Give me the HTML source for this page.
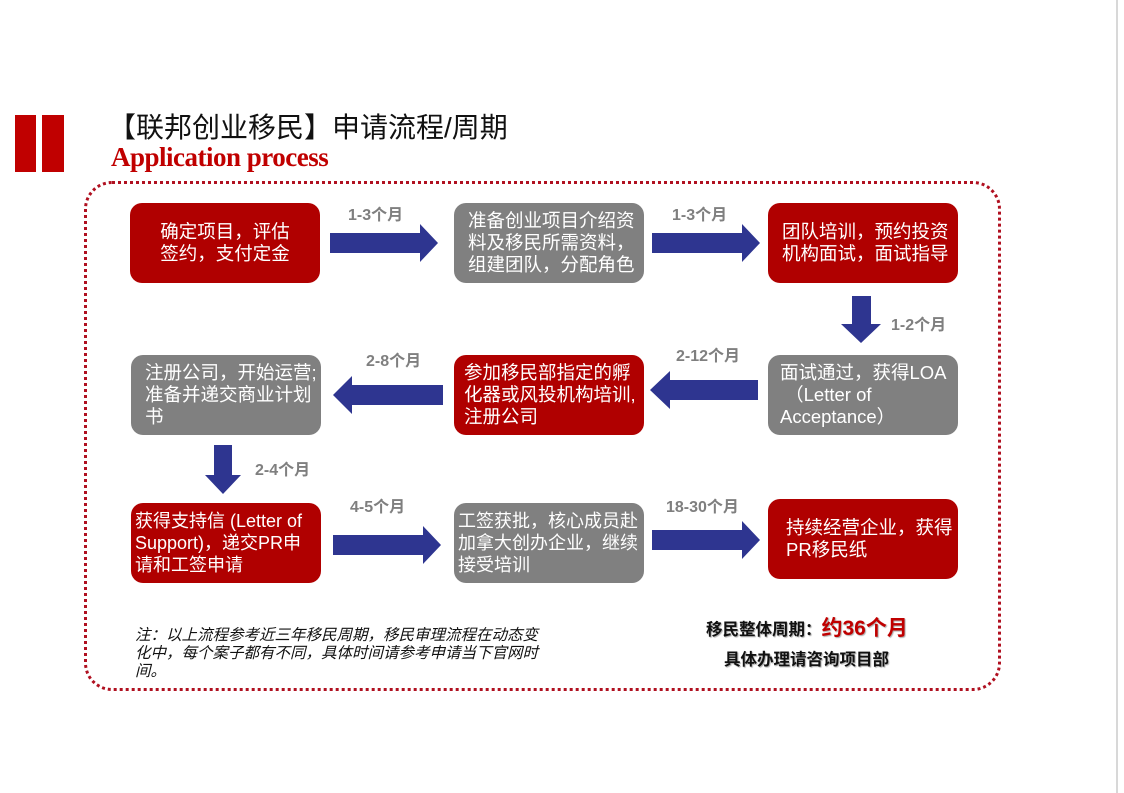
<!DOCTYPE html>
<html><head><meta charset="utf-8"><style>
body{margin:0;width:1124px;height:793px;background:#fff;position:relative;overflow:hidden;font-family:"Liberation Sans","Noto Sans CJK SC",sans-serif}
.a{position:absolute}
.box{position:absolute;width:190px;height:80px;border-radius:12px;color:#fff;font-size:18.5px;line-height:22px;box-sizing:border-box;padding:0 6px;display:flex;align-items:center;white-space:nowrap;overflow:hidden}
.r{background:#b00000}.g{background:#808080}
.lb{position:absolute;color:#7f7f7f;font-weight:bold;font-size:16px}
</style></head><body>
<div class="a" style="left:1116px;top:0;width:2px;height:793px;background:#d8d8d8"></div>
<div class="a" style="left:15px;top:115px;width:21px;height:57px;background:#c00000"></div>
<div class="a" style="left:42px;top:115px;width:22px;height:57px;background:#c00000"></div>
<div class="a" style="left:108px;top:106px;font-size:28px;color:#111">【联邦创业移民】申请流程/周期</div>
<div class="a" style="left:111px;top:142px;font-size:27px;color:#c00000;font-weight:bold;font-family:'Liberation Serif',serif;letter-spacing:-0.5px">Application process</div>
<div class="a" style="left:84px;top:181px;width:911px;height:504px;border:3px dotted #b01020;border-radius:28px"></div>

<div class="box r" style="left:130px;top:203px;justify-content:center;text-align:center">确定项目，评估<br>签约，支付定金</div>
<div class="box g" style="left:454px;top:203px;padding-left:14px">准备创业项目介绍资<br>料及移民所需资料，<br>组建团队，分配角色</div>
<div class="box r" style="left:768px;top:203px;padding-left:14px">团队培训，预约投资<br>机构面试，面试指导</div>
<div class="box g" style="left:131px;top:355px;padding-left:14px">注册公司，开始运营;<br>准备并递交商业计划<br>书</div>
<div class="box r" style="left:454px;top:355px;padding-left:10px">参加移民部指定的孵<br>化器或风投机构培训,<br>注册公司</div>
<div class="box g" style="left:768px;top:355px;padding-left:12px">面试通过，获得LOA<br>&nbsp;（Letter of<br>Acceptance）</div>
<div class="box r" style="left:131px;top:503px;padding-left:4px;font-size:18px">获得支持信 (Letter of<br>Support)，递交PR申<br>请和工签申请</div>
<div class="box g" style="left:454px;top:503px;padding-left:4px;font-size:18px">工签获批，核心成员赴<br>加拿大创办企业，继续<br>接受培训</div>
<div class="box r" style="left:768px;top:499px;padding-left:18px">持续经营企业，获得<br>PR移民纸</div>

<svg class="a" style="left:0;top:0" width="1124" height="793">
<g fill="#2e3590">
<polygon points="330,233 420,233 420,224 438,243 420,262 420,253 330,253"/>
<polygon points="652,233 742,233 742,224 760,243 742,262 742,253 652,253"/>
<polygon points="443,385 352,385 352,376 333,395 352,414 352,405 443,405"/>
<polygon points="758,380 670,380 670,371 650,390 670,409 670,400 758,400"/>
<polygon points="333,535 423,535 423,526 441,545 423,564 423,555 333,555"/>
<polygon points="652,530 742,530 742,521 760,540 742,559 742,550 652,550"/>
<polygon points="852,296 871,296 871,324 881,324 861,343 841,324 852,324"/>
<polygon points="214,445 232,445 232,475 241,475 223,494 205,475 214,475"/>
</g></svg>

<div class="lb" style="left:348px;top:201px">1-3个月</div>
<div class="lb" style="left:672px;top:201px">1-3个月</div>
<div class="lb" style="left:891px;top:311px">1-2个月</div>
<div class="lb" style="left:366px;top:347px">2-8个月</div>
<div class="lb" style="left:676px;top:342px">2-12个月</div>
<div class="lb" style="left:255px;top:456px">2-4个月</div>
<div class="lb" style="left:350px;top:493px">4-5个月</div>
<div class="lb" style="left:666px;top:493px">18-30个月</div>

<div class="a" style="left:135px;top:627px;font-size:15.5px;line-height:18px;font-style:italic;color:#111;white-space:nowrap">注：以上流程参考近三年移民周期，移民审理流程在动态变<br>化中，每个案子都有不同，具体时间请参考申请当下官网时<br>间。</div>
<div class="a" style="left:706px;top:612px;font-size:16.5px;font-weight:bold;color:#111;text-shadow:1px 1px 1px #aaa;white-space:nowrap">移民整体周期：<span style="color:#c00000;font-size:21px">约36个月</span></div>
<div class="a" style="left:724px;top:646px;font-size:16.5px;font-weight:bold;color:#111;text-shadow:1px 1px 1px #aaa">具体办理请咨询项目部</div>
</body></html>
